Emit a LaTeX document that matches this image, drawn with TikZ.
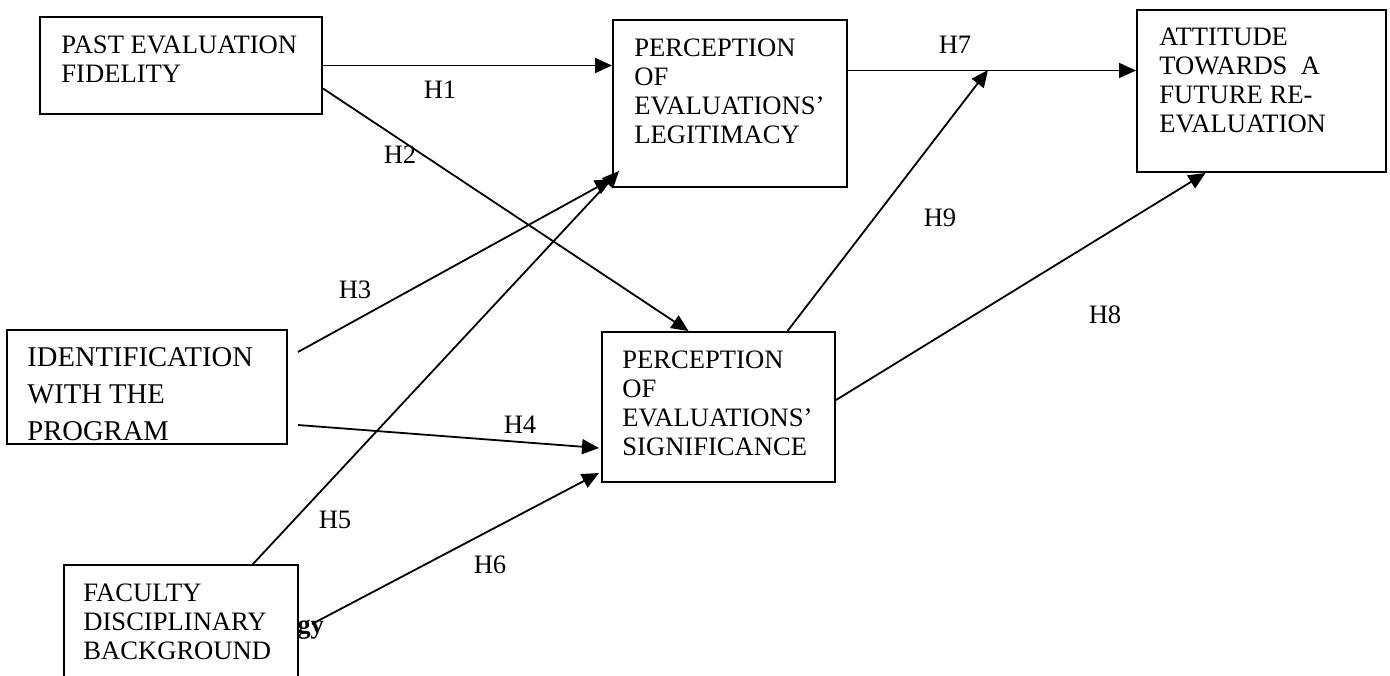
\documentclass[tikz,border=0pt]{standalone}
\usepackage{fontspec}
\setmainfont{Liberation Serif}
\usetikzlibrary{arrows.meta,fit,calc}
\tikzset{
 box/.style={draw, line width=1pt, inner sep=0pt, fill=white},
 boxtext/.style={anchor=north west, inner sep=0pt, align=left, font=\fontsize{13.3}{14.5}\selectfont},
 hyp/.style={inner sep=1pt, font=\fontsize{13.3}{15}\selectfont},
 link/.style={line width=0.9pt, -{Triangle[length=8.5pt,width=7.5pt]}}
}
\begin{document}
\begin{tikzpicture}[x=0.5pt,y=-0.5pt]
 \useasboundingbox (0,0) rectangle (1390,675);
 \clip (0,0) rectangle (1390,675);
 % leftover of a heading, half hidden by the faculty box
 \node[anchor=base west, inner sep=0pt, font=\fontsize{13.3}{15}\selectfont\bfseries] (gy) at (297,633) {gy};
 % construct boxes
 \node[box, fit={(40,17) (322,114)}] (fidelity) {};
 \node[box, fit={(613,20) (847,187)}] (legit) {};
 \node[box, fit={(1137,10) (1386,172)}] (attit) {};
 \node[box, fit={(7,330) (287,444)}] (ident) {};
 \node[box, fit={(602,332) (835,482)}] (signif) {};
 \node[box, fit={(64,565) (298,720)}] (faculty) {};
 \node[boxtext] (fidelitytxt) at (61,35) {PAST EVALUATION\\FIDELITY};
 \node[boxtext] (legittxt) at (634,38) {PERCEPTION\\OF\\EVALUATIONS’\\LEGITIMACY};
 \node[boxtext] (attittxt) at (1159,28) {ATTITUDE\\TOWARDS\ \ A\\FUTURE RE-\\EVALUATION};
 \node[boxtext, font=\fontsize{14.3}{18.5}\selectfont] (identtxt) at (27,347) {IDENTIFICATION\\WITH THE\\PROGRAM};
 \node[boxtext] (signiftxt) at (622,350) {PERCEPTION\\OF\\EVALUATIONS’\\SIGNIFICANCE};
 \node[boxtext] (facultytxt) at (83,583) {FACULTY\\DISCIPLINARY\\BACKGROUND};
 % free ends of the paths
 \coordinate (s3) at (298,352);
 \coordinate (s4) at (298,425);
 \coordinate (s6) at (312,624);
 \coordinate (s7) at ($(legit.east)+(0,-33)$);
 \coordinate (m7) at (988,70);
 % hypotheses
 \draw[link] (fidelity.east) -- (fidelity.east -| legit.west);
 \draw[link] ($(fidelity.east)+(0,23)$) -- ($(signif.north)+(-30,0)$);
 \draw[link] (s3) -- ($(legit.south west)+(0,-9)$);
 \draw[link] (s4) -- ($(signif.west)+(-2,41)$);
 \draw[link] ($(faculty.north)+(72,0)$) -- ($(legit.south west)+(7,-17)$);
 \draw[link] (s6) -- ($(signif.south west)+(-2,-10)$);
 \draw[link] (s7) -- (s7 -| attit.west);
 \draw[link] ($(signif.east)+(0,-7)$) -- ($(attit.south)+(-56,0)$);
 \draw[link] ($(signif.north)+(69,0)$) -- (m7);
 \node[hyp] (h1) at (440,90) {H1};
 \node[hyp] (h2) at (400,155) {H2};
 \node[hyp] (h3) at (355,290) {H3};
 \node[hyp] (h4) at (520,425) {H4};
 \node[hyp] (h5) at (335,520) {H5};
 \node[hyp] (h6) at (490,565) {H6};
 \node[hyp] (h7) at (955,45) {H7};
 \node[hyp] (h8) at (1105,315) {H8};
 \node[hyp] (h9) at (940,218) {H9};
\end{tikzpicture}
\end{document}
